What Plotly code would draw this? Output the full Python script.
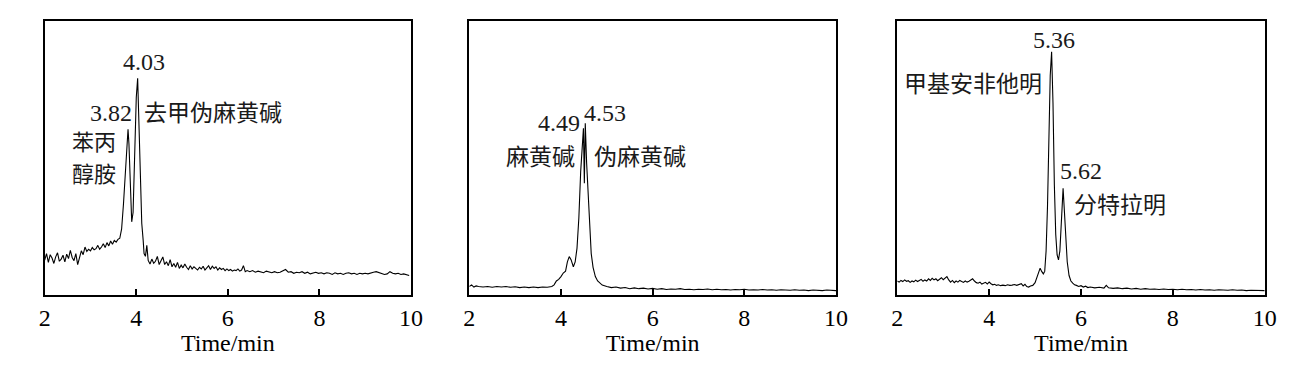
import plotly.graph_objects as go

# ---------------- data ----------------
t1 = [2.00, 2.04, 2.08, 2.12, 2.16, 2.20, 2.24, 2.28, 2.32, 2.36, 2.40, 2.44, 2.48, 2.52, 2.56, 2.60,
      2.64, 2.68, 2.72, 2.76, 2.80, 2.84, 2.88, 2.92, 2.96, 3.00, 3.04, 3.08, 3.12, 3.16, 3.20, 3.24,
      3.28, 3.32, 3.36, 3.40, 3.44, 3.48, 3.52, 3.56, 3.60, 3.64, 3.68, 3.72, 3.76, 3.80, 3.82, 3.84,
      3.87, 3.90, 3.93, 3.96, 4.00, 4.03, 4.06, 4.09, 4.12, 4.15, 4.17, 4.20, 4.23, 4.26, 4.30, 4.34,
      4.38, 4.42, 4.46, 4.50, 4.54, 4.58, 4.62, 4.66, 4.70, 4.74, 4.78, 4.82, 4.86, 4.90, 4.94, 4.98,
      5.02, 5.06, 5.10, 5.14, 5.18, 5.22, 5.26, 5.30, 5.34, 5.38, 5.42, 5.46, 5.50, 5.54, 5.58, 5.62,
      5.66, 5.70, 5.74, 5.78, 5.82, 5.86, 5.90, 5.94, 5.98, 6.02, 6.06, 6.10, 6.14, 6.18, 6.22, 6.26,
      6.30, 6.34, 6.38, 6.42, 6.48, 6.54, 6.60, 6.66, 6.72, 6.78, 6.84, 6.90, 6.96, 7.02, 7.08, 7.14,
      7.20, 7.26, 7.32, 7.38, 7.44, 7.50, 7.56, 7.62, 7.68, 7.74, 7.80, 7.86, 7.92, 7.98, 8.04, 8.10,
      8.16, 8.22, 8.28, 8.34, 8.40, 8.46, 8.52, 8.58, 8.64, 8.70, 8.76, 8.82, 8.88, 8.94, 9.00, 9.06,
      9.12, 9.18, 9.24, 9.30, 9.36, 9.42, 9.48, 9.54, 9.60, 9.66, 9.72, 9.78, 9.84, 9.90, 9.96]
y1 = [12.6, 15.0, 11.8, 14.6, 13.4, 11.4, 13.8, 15.3, 12.2, 13.0, 14.4, 12.0, 14.8, 13.2, 16.2, 13.6,
      12.4, 15.0, 11.0, 13.8, 16.0, 14.6, 17.4, 15.8, 16.6, 16.0, 17.2, 16.4, 16.8, 18.0, 16.6, 17.4,
      18.6, 17.2, 19.0, 17.8, 19.6, 18.4, 19.8, 19.2, 20.2, 20.6, 24.0, 33.0, 45.0, 57.0, 60.4, 55.0,
      38.0, 26.6, 30.0, 50.0, 72.0, 79.0, 62.0, 40.0, 26.0, 20.0, 15.0, 14.0, 18.0, 12.5, 11.2, 13.0,
      11.5, 12.2, 14.0, 11.0, 12.6, 13.8, 11.0, 12.0, 10.6, 12.8, 10.2, 11.4, 10.0, 11.8, 9.6, 10.8,
      9.8, 11.2, 10.0, 9.2, 10.6, 9.4, 10.2, 9.6, 9.0, 10.0, 9.4, 10.4, 9.0, 9.8, 10.6, 9.2,
      10.4, 9.6, 10.2, 9.0, 9.8, 9.2, 9.6, 8.8, 9.4, 8.8, 9.2, 8.6, 9.0, 8.8, 9.4, 8.6,
      9.0, 10.6, 8.4, 8.8, 8.4, 8.8, 8.2, 8.6, 8.4, 8.0, 8.6, 8.2, 8.0, 8.4, 8.0, 8.2,
      8.6, 9.2, 8.2, 8.4, 7.8, 8.2, 8.0, 8.4, 7.8, 8.2, 7.6, 8.0, 8.2, 7.8, 8.0, 7.6,
      8.0, 7.8, 7.4, 8.0, 7.6, 7.8, 7.4, 7.8, 8.0, 7.6, 7.8, 7.4, 7.8, 7.6, 7.8, 7.6,
      8.0, 8.2, 8.4, 8.0, 7.8, 7.4, 7.6, 8.4, 7.8, 7.6, 7.8, 7.4, 7.6, 7.2, 7.0]

t2 = [2.00, 2.05, 2.10, 2.15, 2.20, 2.30, 2.40, 2.50, 2.60, 2.70, 2.80, 2.90, 3.00, 3.10, 3.20, 3.30,
      3.40, 3.50, 3.60, 3.70, 3.80, 3.85, 3.90, 3.95, 4.00, 4.05, 4.10, 4.14, 4.18, 4.22, 4.27, 4.31,
      4.35, 4.39, 4.43, 4.47, 4.49, 4.51, 4.53, 4.56, 4.60, 4.63, 4.66, 4.70, 4.75, 4.80, 4.85, 4.90,
      5.00, 5.10, 5.20, 5.30, 5.40, 5.50, 5.60, 5.70, 5.80, 5.90, 6.00, 6.10, 6.20, 6.30, 6.40, 6.50,
      6.60, 6.70, 6.80, 6.90, 7.00, 7.10, 7.20, 7.30, 7.40, 7.50, 7.60, 7.70, 7.80, 7.90, 8.00, 8.10,
      8.20, 8.30, 8.40, 8.50, 8.60, 8.70, 8.80, 8.90, 9.00, 9.10, 9.20, 9.30, 9.40, 9.50, 9.60, 9.70,
      9.80, 9.90, 10.00]
y2 = [3.0, 3.6, 2.8, 3.2, 3.0, 2.8, 3.0, 2.7, 3.0, 2.8, 3.0, 2.7, 2.9, 2.6, 2.8, 2.6,
      2.8, 2.6, 2.8, 2.7, 3.0, 3.6, 5.0, 5.6, 6.6, 7.9, 8.6, 12.0, 13.9, 12.8, 10.2, 12.0,
      17.0, 28.0, 45.0, 58.0, 60.7, 40.7, 62.6, 48.0, 34.6, 24.0, 15.0, 10.0, 6.6, 5.0, 4.2, 3.5,
      3.0, 2.6, 2.8, 2.4, 2.6, 2.2, 2.5, 2.2, 2.4, 2.1, 2.3, 2.0, 2.2, 1.9, 2.1, 2.0,
      2.2, 1.9, 2.0, 1.8, 2.0, 1.9, 2.1, 1.8, 2.0, 1.8, 1.9, 1.7, 1.9, 1.8, 2.0, 1.7,
      1.8, 1.7, 1.9, 1.7, 1.8, 1.6, 1.8, 1.7, 1.6, 1.8, 1.6, 1.7, 1.5, 1.7, 1.6, 1.5,
      1.7, 1.6, 1.5]

t3 = [2.00, 2.04, 2.08, 2.12, 2.16, 2.20, 2.24, 2.28, 2.32, 2.36, 2.40, 2.44, 2.48, 2.52, 2.56, 2.60,
      2.64, 2.68, 2.72, 2.76, 2.80, 2.84, 2.88, 2.92, 2.96, 3.00, 3.04, 3.08, 3.12, 3.16, 3.20, 3.24,
      3.28, 3.32, 3.36, 3.40, 3.44, 3.48, 3.52, 3.56, 3.60, 3.64, 3.68, 3.72, 3.76, 3.80, 3.84, 3.88,
      3.92, 3.96, 4.00, 4.04, 4.08, 4.12, 4.16, 4.20, 4.25, 4.30, 4.35, 4.40, 4.45, 4.50, 4.55, 4.60,
      4.65, 4.70, 4.74, 4.78, 4.82, 4.86, 4.90, 4.95, 5.00, 5.04, 5.08, 5.11, 5.14, 5.18, 5.21, 5.24,
      5.27, 5.30, 5.33, 5.36, 5.39, 5.42, 5.45, 5.48, 5.51, 5.54, 5.57, 5.61, 5.64, 5.67, 5.70, 5.74,
      5.78, 5.82, 5.86, 5.90, 5.95, 6.00, 6.05, 6.10, 6.15, 6.20, 6.30, 6.40, 6.50, 6.55, 6.60, 6.70,
      6.80, 6.90, 7.00, 7.10, 7.20, 7.30, 7.40, 7.50, 7.60, 7.70, 7.80, 7.90, 8.00, 8.10, 8.20, 8.30,
      8.40, 8.50, 8.60, 8.70, 8.80, 8.90, 9.00, 9.10, 9.20, 9.30, 9.40, 9.50, 9.60, 9.70, 9.80, 9.90,
      10.00]
y3 = [5.0, 4.6, 5.2, 4.8, 5.4, 4.9, 5.1, 4.5, 5.0, 4.7, 5.3, 4.8, 5.2, 5.6, 4.9, 5.4,
      5.0, 5.8, 5.2, 6.0, 5.4, 5.8, 5.1, 5.6, 6.2, 5.5, 5.9, 6.6, 5.4, 4.6, 5.2, 4.4,
      5.0, 4.6, 5.2, 4.8, 4.5, 5.0, 4.6, 4.9, 5.3, 5.8, 5.0, 4.4, 4.2, 4.6, 3.9, 4.3,
      4.5, 3.9, 4.6, 4.0, 3.6, 3.8, 3.4, 3.6, 3.3, 3.5, 3.3, 3.6, 3.4, 3.5, 3.7, 3.4,
      3.6, 4.0, 3.2, 3.8, 3.0, 2.8, 3.2, 3.4, 4.4, 6.6, 8.8, 9.7, 8.6, 7.6, 8.5, 16.0,
      32.0, 58.0, 80.0, 88.7, 70.0, 40.0, 22.0, 14.5, 12.7, 16.0, 26.0, 38.8, 30.0, 19.0, 12.0, 7.0,
      5.0, 4.2, 3.6, 3.4, 3.0, 3.3, 2.8, 3.1, 2.6, 2.8, 2.5, 2.7, 2.4, 3.4, 2.5, 2.3,
      2.5, 2.2, 2.4, 2.1, 2.3, 2.0, 2.2, 2.0, 2.1, 1.9, 2.1, 1.9, 2.0, 1.8, 2.0, 1.8,
      1.9, 1.7, 1.9, 1.7, 1.8, 1.6, 1.8, 1.7, 1.6, 1.8, 1.6, 1.7, 1.5, 1.6, 1.5, 1.6,
      1.5]

x_ticks = [2, 4, 6, 8, 10]
x_tick_labels = ["2", "4", "6", "8", "10"]
x_title = "Time/min"

# label text, panel, x (min), y (signal), xanchor, font size
labels = [
    ("4.03", 1, 4.162, 85.0, "center", 24),
    ("3.82", 1, 3.935, 66.2, "right", 24),
    ("去甲伪麻黄碱", 1, 4.140, 67.0, "left", 23),
    ("苯丙", 1, 2.575, 56.6, "left", 22),
    ("醇胺", 1, 2.575, 44.8, "left", 22),
    ("4.49", 2, 4.445, 62.6, "right", 24),
    ("4.53", 2, 4.475, 66.4, "left", 24),
    ("麻黄碱", 2, 4.320, 51.0, "right", 23),
    ("伪麻黄碱", 2, 4.690, 51.0, "left", 23),
    ("5.36", 3, 5.412, 93.0, "center", 24),
    ("甲基安非他明", 3, 2.118, 77.7, "left", 23),
    ("5.62", 3, 5.515, 45.2, "left", 24),
    ("分特拉明", 3, 5.820, 33.6, "left", 23),
]

# ---------------- figure ----------------
SERIF = "Liberation Serif"
CJK = "Noto Sans CJK SC"

fig = go.Figure()
series = [(t1, y1), (t2, y2), (t3, y3)]
for i, (t, y) in enumerate(series, start=1):
    suffix = "" if i == 1 else str(i)
    fig.add_trace(go.Scatter(
        x=t, y=y, mode="lines",
        line=dict(color="black", width=1.1),
        xaxis="x" + suffix, yaxis="y" + suffix,
        showlegend=False, hoverinfo="skip",
    ))

x_domains = [[0.03436, 0.31591], [0.36072, 0.64258], [0.68970, 0.97210]]
y_domain = [0.1970, 0.9436]

layout = dict(
    width=1301, height=367,
    margin=dict(l=0, r=0, t=0, b=0),
    paper_bgcolor="white", plot_bgcolor="white",
    showlegend=False,
)
for i in range(1, 4):
    suffix = "" if i == 1 else str(i)
    layout["xaxis" + suffix] = dict(
        domain=x_domains[i - 1], range=[2, 10], anchor="y" + suffix,
        tickmode="array", tickvals=x_ticks, ticktext=x_tick_labels,
        ticks="inside", ticklen=6, tickwidth=1.8, tickcolor="black",
        showline=True, linewidth=2, linecolor="black", mirror=True,
        showgrid=False, zeroline=False,
        tickfont=dict(family=SERIF, size=24, color="black"),
        title=dict(text=x_title, font=dict(family=SERIF, size=24, color="black"), standoff=5),
        automargin=False,
    )
    layout["yaxis" + suffix] = dict(
        domain=y_domain, range=[0, 100], anchor="x" + suffix,
        showline=True, linewidth=2, linecolor="black", mirror=True,
        showticklabels=False, ticks="", showgrid=False, zeroline=False,
        automargin=False,
    )
fig.update_layout(**layout)

for text, panel, x, y, xa, size in labels:
    suffix = "" if panel == 1 else str(panel)
    is_num = text.replace(".", "").isdigit()
    fig.add_annotation(
        text=text, x=x, y=y, xref="x" + suffix, yref="y" + suffix,
        xanchor=xa, yanchor="middle", showarrow=False, align="left",
        font=dict(family=SERIF if is_num else CJK, size=size, color="#1a1a1a"),
        borderpad=0,
    )

fig.write_html("out.html")
